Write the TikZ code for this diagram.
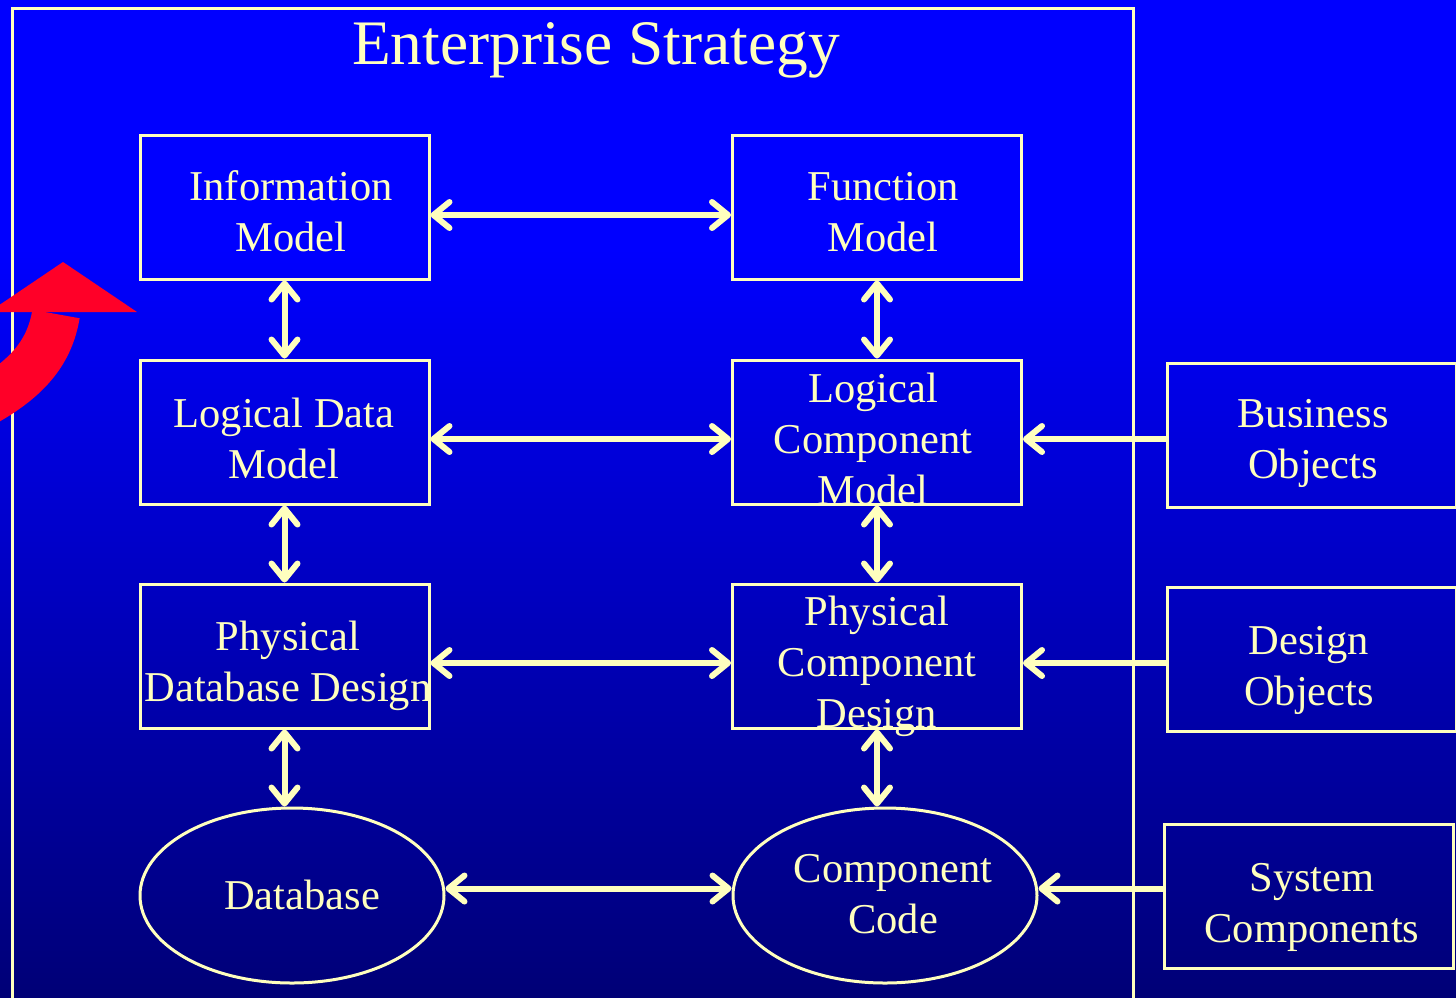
\documentclass[tikz,border=0pt]{standalone}
\usepackage{fontspec}
\setmainfont{Liberation Serif}
\usetikzlibrary{arrows.meta,shapes.geometric}
\definecolor{fg}{RGB}{255,255,190}
\definecolor{bgtop}{RGB}{0,0,255}
\definecolor{bgbot}{RGB}{0,0,118}
\definecolor{redarr}{RGB}{255,0,40}
\tikzset{
  box/.style={draw=fg, line width=1.5pt, minimum width=144.5pt, minimum height=72pt, inner sep=0pt},
  oval/.style={draw=fg, line width=1.5pt, ellipse, minimum width=152pt, minimum height=87.5pt, inner sep=0pt},
  lbl/.style={text=fg, align=center, font=\fontsize{21.25pt}{25.5pt}\selectfont, inner sep=0pt},
  dbl/.style={draw=fg, line width=3pt, {Straight Barb[round,length=8pt,width=13pt]}-{Straight Barb[round,length=8pt,width=13pt]}},
  sgl/.style={draw=fg, line width=3pt, -{Straight Barb[round,length=8pt,width=13pt]}},
  frame/.style={draw=fg, line width=1.5pt}
}
\begin{document}
\begin{tikzpicture}[x=0.5pt,y=-0.5pt]
\useasboundingbox (0,0) rectangle (1456,997);
\fill[bgtop] (0,0) rectangle (1456,250);
\shade[top color=bgtop, bottom color=bgbot] (0,249) rectangle (1456,997);
\clip (0,0) rectangle (1456,997);

% enterprise frame
\draw[frame] (12,1010) -- (12,8) -- (1133,8) -- (1133,1010);
\node[lbl, font=\fontsize{31.7pt}{38pt}\selectfont] (title) at (596,50) {Enterprise Strategy};

% red arrow
\draw[redarr, line width=24pt] (56,314) .. controls (50,350) and (30,378) .. (-20,405);
\fill[redarr] (63,262) -- (137,312) -- (-11,312) -- cycle;

% left column
\node[box] (im) at (284.5,207) {};
\node[lbl] (imt) at (291,211) {Information\\Model};
\node[box] (ldm) at (284.5,432) {};
\node[lbl] (ldmt) at (284,438) {Logical Data\\Model};
\node[box] (pdd) at (284.5,656) {};
\node[lbl] (pddt) at (288,666) {Physical\\Database Design};
\node[oval] (db) at (292,895.5) {};
\node[lbl] (dbt) at (302,895) {Database};

% right column
\node[box] (fm) at (877,207) {};
\node[lbl] (fmt) at (883,212) {Function\\Model};
\node[box] (lcm) at (877,432) {};
\node[lbl] (lcmt) at (873,439) {Logical\\Component\\Model};
\node[box] (pcd) at (877,656) {};
\node[lbl] (pcdt) at (877,666) {Physical\\Component\\Design};
\node[oval] (cc) at (885,895.5) {};
\node[lbl] (cct) at (893,894) {Component\\Code};

% far right
\node[box] (bo) at (1311.5,435) {};
\node[lbl] (bot) at (1313,443) {Business\\Objects};
\node[box] (dso) at (1311.5,659) {};
\node[lbl] (dsot) at (1309,670) {Design\\Objects};
\node[box] (sc) at (1308.5,896) {};
\node[lbl] (sct) at (1312,907) {System\\Components};

% horizontal double arrows
\draw[dbl] ([yshift=-4pt]im.east) -- ([yshift=-4pt]fm.west);
\draw[dbl] ([yshift=-3.5pt]ldm.east) -- ([yshift=-3.5pt]lcm.west);
\draw[dbl] ([yshift=-3.5pt]pdd.east) -- ([yshift=-3.5pt]pcd.west);
\draw[dbl] ([yshift=3.5pt]db.east) -- ([yshift=3.5pt]cc.west);

% vertical double arrows
\draw[dbl] (im.south) -- (ldm.north);
\draw[dbl] (ldm.south) -- (pdd.north);
\draw[dbl] (pdd.south) -- (pdd.south |- db.north);
\draw[dbl] (fm.south) -- (lcm.north);
\draw[dbl] (lcm.south) -- (pcd.north);
\draw[dbl] (pcd.south) -- (pcd.south |- cc.north);

% single arrows from right
\draw[sgl] ([yshift=-3.5pt]bo.west |- lcm.east) -- ([yshift=-3.5pt]lcm.east);
\draw[sgl] ([yshift=-3.5pt]dso.west |- pcd.east) -- ([yshift=-3.5pt]pcd.east);
\draw[sgl] ([yshift=3.5pt]sc.west |- cc.east) -- ([yshift=3.5pt]cc.east);
\end{tikzpicture}
\end{document}
